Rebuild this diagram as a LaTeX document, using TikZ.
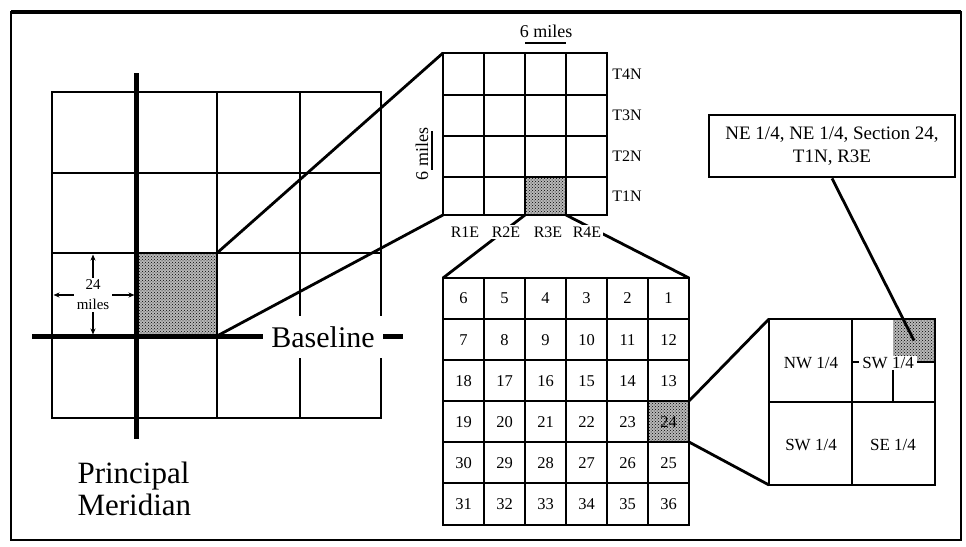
\documentclass[tikz,border=0pt]{standalone}
\usepackage{fontspec}
\setmainfont{Liberation Serif}
\usetikzlibrary{patterns,arrows.meta}
\begin{document}
\begin{tikzpicture}[x=1pt,y=-1pt,
  gl/.style={line width=2.8pt},
  heavy/.style={line width=5pt},
  conn/.style={line width=2.8pt},
  shaded/.style={fill=black!28, postaction={pattern=crosshatch dots, pattern color=black}, inner sep=0pt, outer sep=0pt},
  gridbox/.style={draw, line width=2.8pt, inner sep=0pt, outer sep=0pt},
  lbl/.style={font=\fontsize{16}{18}\selectfont, inner sep=1pt},
  rlbl/.style={font=\fontsize{16}{18}\selectfont, fill=white, inner sep=2pt},
  num/.style={font=\fontsize{16.5}{18}\selectfont},
  qlbl/.style={font=\fontsize{17}{19}\selectfont},
  dimarrow/.style={line width=1.3pt, shorten >=1.5pt, -{Stealth[length=6pt,width=5pt]}},
  scalebar/.style={line width=2pt},
]
\useasboundingbox (0,0) rectangle (966,546);
% outer frame
\draw[line width=2.5pt] (11,12) rectangle (961,540);
\draw[line width=4pt] (11,12) -- (961,12);

% ---------- shaded cells ----------
\node[shaded, minimum width=81pt, minimum height=83pt] (lcell) at (176.5,294.5) {};
\node[shaded, minimum width=41pt, minimum height=38pt] (tcell) at (545.5,196) {};
\node[shaded, minimum width=41pt, minimum height=41pt] (scell) at (668.5,421.5) {};
\node[shaded, minimum width=42pt, minimum height=43pt] (nesq) at (914,340.5) {};

% ---------- left grid ----------
\node[gridbox, minimum width=329pt, minimum height=326pt] (lgrid) at (216.5,255) {};
\foreach \x in {217,300} \draw[gl] (\x,92) -- (\x,418);
\foreach \y in {173,253} \draw[gl] (52,\y) -- (381,\y);
\draw[heavy] (136,73) -- (136,439);
\draw[heavy] (32,336) -- (403,336);

% ---------- township grid ----------
\node[gridbox, minimum width=164pt, minimum height=162pt] (town) at (525,134) {};
\foreach \x in {484,525,566} \draw[gl] (\x,53) -- (\x,215);
\foreach \y in {95,136,177} \draw[gl] (443,\y) -- (607,\y);

% ---------- section grid ----------
\node[gridbox, minimum width=246pt, minimum height=247pt] (sect) at (566,401.5) {};
\foreach \x in {484,525,566,607,648} \draw[gl] (\x,278) -- (\x,525);
\foreach \y in {319,360,401,442,483} \draw[gl] (443,\y) -- (689,\y);

% ---------- quarter section ----------
\node[gridbox, minimum width=166pt, minimum height=166pt] (quar) at (852,402) {};
\draw[gl] (852,319) -- (852,485);
\draw[gl] (769,402) -- (935,402);
\draw[gl] (852,362) -- (935,362);
\draw[gl] (893,362) -- (893,402);

% ---------- label box ----------
\node[draw, line width=2.8pt, minimum width=246pt, minimum height=62pt, align=center,
      font=\fontsize{19}{23}\selectfont] (info) at (832,146) {NE 1/4, NE 1/4, Section 24,\\T1N, R3E};

% ---------- connectors ----------
\draw[conn] (lcell.north east) -- (town.north west);
\draw[conn] (lcell.south east) -- (town.south west);
\draw[conn] (tcell.south west) -- (sect.north west);
\draw[conn] (tcell.south east) -- (sect.north east);
\draw[conn] (scell.north east) -- (quar.north west);
\draw[conn] (scell.south east) -- (quar.south west);
\draw[conn] (info.south) -- (nesq.center);

% ---------- left grid labels ----------
\node[font=\fontsize{15}{20}\selectfont, align=center, inner xsep=3pt, inner ysep=2pt] (dim) at (93,295) {24\\miles};
\draw[dimarrow] (dim.north) -- (dim.north |- lcell.north);
\draw[dimarrow] (dim.south) -- (dim.south |- lcell.south);
\draw[dimarrow] (dim.east) -- (dim.east -| lcell.west);
\draw[dimarrow] (dim.west) -- (dim.west -| lgrid.west);
\node[font=\fontsize{30}{32}\selectfont, fill=white, inner xsep=8pt, inner ysep=0pt, minimum height=42pt] (base) at (323,337) {Baseline};
\node[font=\fontsize{31}{32}\selectfont, align=left, anchor=west] (pm) at (74,489) {Principal\\Meridian};

% ---------- township labels ----------
\node[font=\fontsize{18}{20}\selectfont] (sixh) at (546,31) {6 miles};
\draw[scalebar] (525,43) -- (566,43);
\node[font=\fontsize{18}{20}\selectfont, rotate=90] (sixv) at (422,154) {6 miles};
\draw[scalebar] (432,131) -- (432,170);
\node[lbl] (t4) at (627,74) {T4N};
\node[lbl] (t3) at (627,115.5) {T3N};
\node[lbl] (t2) at (627,156.5) {T2N};
\node[lbl] (t1) at (627,196) {T1N};
\node[rlbl] (r1) at (465,232) {R1E};
\node[rlbl] (r2) at (506,232) {R2E};
\node[rlbl] (r3) at (548,232) {R3E};
\node[rlbl] (r4) at (587,232) {R4E};

% ---------- section numbers ----------
\foreach \r/\lst in {0/{6,5,4,3,2,1},1/{7,8,9,10,11,12},2/{18,17,16,15,14,13},
                     3/{19,20,21,22,23,24},4/{30,29,28,27,26,25},5/{31,32,33,34,35,36}}{
  \foreach \n [count=\c from 0] in \lst {
    \node[num] (s\n) at ({463.5+41*\c},{298.5+41.17*\r}) {\n};
  }
}

% ---------- quarter labels ----------
\node[qlbl] (nw) at (811,363) {NW 1/4};
\node[qlbl] (sw) at (811,445) {SW 1/4};
\node[qlbl] (se) at (893,445) {SE 1/4};
\node[qlbl, fill=white, inner xsep=3pt, inner ysep=1pt] (nesw) at (888,363) {SW 1/4};
\end{tikzpicture}
\end{document}
